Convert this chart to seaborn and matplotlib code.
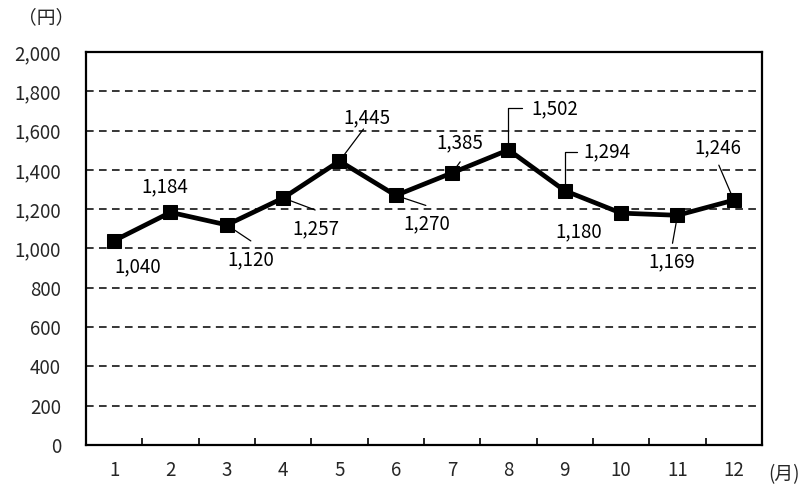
import numpy as np
import pandas as pd
import matplotlib
matplotlib.use("Agg")
import matplotlib.pyplot as plt
import seaborn as sns

months = list(range(1, 13))
prices = [1040, 1184, 1120, 1257, 1445, 1270, 1385, 1502, 1294, 1180, 1169, 1246]
yticks = list(range(0, 2001, 200))

# label placement: text offset (px), leader line end offset (px) or None, elbow?
text_off = [(24, -26), (-6, 26), (24, -35), (33, -31), (27, 43), (31, -28),
            (8, 30), (46, 41), (42, 39), (-42, -19), (-6, -47), (-16, 52)]
line_off = [None, None, (24, -16), (32, -12), (24, 32), (30, -10),
            (8, 11), (14, 42), (12, 39), None, (-5, -28), (-15, 35)]
elbow = [False] * 7 + [True, True] + [False] * 3

sns.set_theme(style="white")
plt.rcParams['font.family'] = ['Noto Sans CJK JP', 'DejaVu Sans']
fs = 13.5

df = pd.DataFrame({"month": months, "price": prices})

fig = plt.figure(figsize=(8.03, 4.91), dpi=100)
ax = fig.add_axes([86 / 803, 46 / 491, 676 / 803, 393 / 491])

for v in yticks[1:-1]:
    ax.axhline(v, color="black", lw=1.1, ls=(0, (5, 3.5)), zorder=1)

sns.lineplot(data=df, x="month", y="price", ax=ax, color="black", lw=3.4,
             marker="s", markersize=9.5, markeredgecolor="black", zorder=3)

for i, (m, p) in enumerate(zip(months, prices)):
    ax.annotate(f"{p:,}", xy=(m, p), xytext=text_off[i], textcoords="offset pixels",
                ha="center", va="center", fontsize=fs, color="black")
    if line_off[i] is not None:
        cs = "angle,angleA=0,angleB=90,rad=0" if elbow[i] else "arc3"
        ax.annotate("", xy=(m, p), xytext=line_off[i], textcoords="offset pixels",
                    arrowprops=dict(arrowstyle="-", color="black", lw=0.9,
                                    shrinkA=0, shrinkB=5, connectionstyle=cs))

ax.set_xlim(0.5, 12.5)
ax.set_ylim(0, 2000)
ax.set_xticks(months)
ax.set_xticklabels([str(m) for m in months])
ax.set_xticks([m + 0.5 for m in months[:-1]], minor=True)
ax.tick_params(axis="x", which="major", length=0, pad=11, labelsize=fs)
ax.tick_params(axis="x", which="minor", length=5, width=1.2, direction="in",
               color="black", bottom=True)
ax.set_yticks(yticks)
ax.set_yticklabels([f"{v:,}" for v in yticks])
ax.tick_params(axis="y", length=0, pad=18, labelsize=fs)
ax.set_xlabel("")
ax.set_ylabel("")
for s in ax.spines.values():
    s.set_color("black")
    s.set_linewidth(1.6)

fig.text(46 / 803, 1 - 18 / 491, "（円）", ha="center", va="center", fontsize=fs)
fig.text(800 / 803, 1 - 475 / 491, "(月)", ha="right", va="center", fontsize=fs)

fig.savefig("out.png", dpi=100)
